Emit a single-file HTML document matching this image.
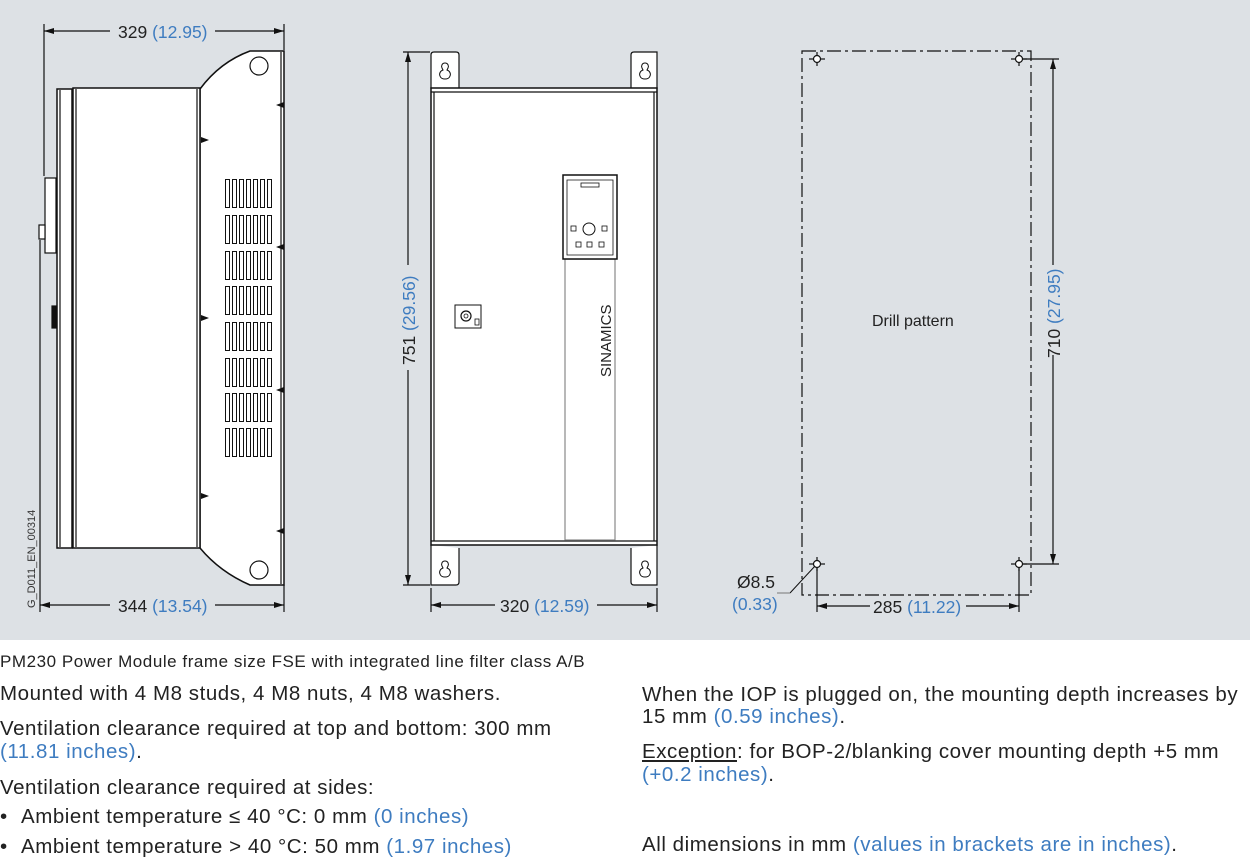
<!DOCTYPE html>
<html><head><meta charset="utf-8"><style>
html,body{margin:0;padding:0;width:1250px;height:863px;background:#fff;overflow:hidden;font-family:"Liberation Sans",sans-serif;}
.b{color:#3e7cc0}
.t{position:absolute;font-size:20.5px;color:#222;line-height:22px;white-space:nowrap;letter-spacing:0.55px}
</style></head><body>
<svg width="1250" height="863" style="position:absolute;left:0;top:0" font-family="Liberation Sans, sans-serif">
<defs>
<marker id="a" viewBox="0 0 10 6" refX="10" refY="3" markerWidth="10" markerHeight="6" orient="auto-start-reverse" markerUnits="userSpaceOnUse"><path d="M0,0L10,3L0,6z" fill="#111"/></marker>
<path id="kh" d="M0,-9 c-3,0 -4,3 -3,5 l1,2 c-3,1 -4,4 -3,6 c1,4 9,4 10,0 c1,-2 0,-5 -3,-6 l1,-2 c1,-2 0,-5 -3,-5z" fill="none" stroke="#111" stroke-width="1"/>
</defs>
<rect x="0" y="0" width="1250" height="640" fill="#dde1e5"/>
<g stroke="#111" fill="none" stroke-width="1.2">
<line x1="44" y1="24" x2="44" y2="176"/>
<line x1="284" y1="24" x2="284" y2="50"/>
<line x1="44" y1="31" x2="110" y2="31" marker-start="url(#a)"/>
<line x1="215" y1="31" x2="284" y2="31" marker-end="url(#a)"/>
<line x1="40" y1="240" x2="40" y2="612"/>
<line x1="284" y1="585" x2="284" y2="612"/>
<line x1="40" y1="605" x2="110" y2="605" marker-start="url(#a)"/>
<line x1="215" y1="605" x2="284" y2="605" marker-end="url(#a)"/>
<path d="M200,89 Q220,62 250,51 L284,51 L284,585 L250,585 Q220,572 200,548 Z" fill="#fff" stroke-width="1.5"/>
<line x1="281" y1="52" x2="281" y2="584"/>
<circle cx="259" cy="66" r="9"/>
<circle cx="259" cy="570" r="9"/>
<rect x="73" y="88" width="127" height="460" fill="#fff" stroke-width="1.5"/>
<line x1="76" y1="89" x2="76" y2="547"/>
<line x1="197" y1="89" x2="197" y2="547"/>
<rect x="57" y="89" width="15" height="459" fill="#fff" stroke-width="1.5"/>
<line x1="60" y1="90" x2="60" y2="547"/>
<rect x="45" y="178" width="11" height="75" fill="#fff"/>
<rect x="39" y="225" width="6" height="14" fill="#fff"/>
<rect x="52" y="306" width="4" height="22" fill="#111"/>
</g>
<g stroke="#111" fill="none" stroke-width="1">
<g id="vg">
<rect x="225.5" y="179.5" width="4" height="28"/><rect x="232.5" y="179.5" width="4" height="28"/><rect x="239.5" y="179.5" width="4" height="28"/><rect x="246.5" y="179.5" width="4" height="28"/><rect x="253.5" y="179.5" width="4" height="28"/><rect x="260.5" y="179.5" width="4" height="28"/><rect x="267.5" y="179.5" width="4" height="28"/>
</g>
<use href="#vg" y="36"/><use href="#vg" y="72"/><use href="#vg" y="107"/><use href="#vg" y="143"/><use href="#vg" y="179"/><use href="#vg" y="214"/><use href="#vg" y="249"/>
</g>
<g fill="#111">
<path d="M284,102 l-8,3 l8,3z"/><path d="M201,137 l8,3 l-8,3z"/><path d="M284,244 l-8,3 l8,3z"/><path d="M201,315 l8,3 l-8,3z"/><path d="M284,387 l-8,3 l8,3z"/><path d="M201,493 l8,3 l-8,3z"/><path d="M284,528 l-8,3 l8,3z"/>
</g>
<text x="118" y="38" font-size="17.5" fill="#222">329 <tspan fill="#3e7cc0">(12.95)</tspan></text>
<text x="118" y="612" font-size="17.5" fill="#222">344 <tspan fill="#3e7cc0">(13.54)</tspan></text>
<text transform="translate(35,608) rotate(-90)" font-size="11" fill="#333">G_D011_EN_00314</text>

<g stroke="#111" fill="none" stroke-width="1.2">
<line x1="403" y1="52" x2="430" y2="52"/>
<line x1="403" y1="585" x2="430" y2="585"/>
<line x1="408" y1="52" x2="408" y2="265" marker-start="url(#a)"/>
<line x1="408" y1="370" x2="408" y2="585" marker-end="url(#a)"/>
<line x1="431" y1="588" x2="431" y2="612"/>
<line x1="657" y1="588" x2="657" y2="612"/>
<line x1="431" y1="605" x2="495" y2="605" marker-start="url(#a)"/>
<line x1="597" y1="605" x2="657" y2="605" marker-end="url(#a)"/>
<path d="M431,89 L431,55 Q431,52 434,52 L456,52 Q459,52 459,55 L459,88" fill="#fff"/>
<path d="M657,89 L657,52 L634,52 Q631,52 631,55 L631,88" fill="#fff"/>
<path d="M431,545 L431,585 L456,585 Q459,585 459,582 L459,548" fill="#fff"/>
<path d="M657,545 L657,585 L634,585 Q631,585 631,582 L631,548" fill="#fff"/>
<rect x="431" y="88" width="226" height="457" fill="#fff" stroke-width="1.5"/>
<line x1="431" y1="92" x2="657" y2="92"/>
<line x1="431" y1="541" x2="657" y2="541"/>
<line x1="434" y1="92" x2="434" y2="541"/>
<line x1="654" y1="92" x2="654" y2="541"/>
<rect x="565" y="259" width="50" height="281" stroke="#888" fill="#fff"/>
<rect x="563" y="175" width="54" height="84" fill="#fff" stroke-width="1.5"/>
<path d="M567,180 L613,180 L613,255 L567,255 Z" stroke-width="0.8"/>
<rect x="581" y="183" width="18" height="4" stroke-width="0.8"/>
<circle cx="589" cy="229" r="6" stroke-width="1"/>
<rect x="571" y="226" width="5" height="5" stroke-width="0.8"/><rect x="602" y="226" width="5" height="5" stroke-width="0.8"/>
<rect x="576" y="242" width="5" height="5" stroke-width="0.8"/><rect x="587" y="242" width="5" height="5" stroke-width="0.8"/><rect x="599" y="242" width="5" height="5" stroke-width="0.8"/>
<rect x="455" y="305" width="26" height="23" fill="#fff" stroke-width="1"/>
<circle cx="466" cy="316" r="5" stroke-width="1.2"/><circle cx="466" cy="316" r="2" stroke-width="0.8"/>
<rect x="475" y="319" width="4" height="6" stroke-width="0.8"/>
</g>
<use href="#kh" x="445" y="72"/><use href="#kh" x="645" y="72"/>
<use href="#kh" x="445" y="570"/><use href="#kh" x="645" y="570"/>
<text transform="translate(415,365) rotate(-90)" font-size="17.5" fill="#222">751 <tspan fill="#3e7cc0">(29.56)</tspan></text>
<text transform="translate(611,377) rotate(-90)" font-size="15" fill="#222">SINAMICS</text>
<text x="500" y="612" font-size="17.5" fill="#222">320 <tspan fill="#3e7cc0">(12.59)</tspan></text>

<g stroke="#111" fill="none" stroke-width="1.2">
<rect x="802" y="51" width="229" height="544" stroke-dasharray="14,4,3,4"/>
<g transform="translate(817,59)"><line x1="-8" y1="0" x2="8" y2="0"/><line x1="0" y1="-7" x2="0" y2="7"/><circle r="3.5" fill="#fff"/></g>
<g transform="translate(1019,59)"><line x1="-8" y1="0" x2="8" y2="0"/><line x1="0" y1="-7" x2="0" y2="7"/><circle r="3.5" fill="#fff"/></g>
<g transform="translate(817,564)"><line x1="-8" y1="0" x2="8" y2="0"/><line x1="0" y1="-7" x2="0" y2="7"/><circle r="3.5" fill="#fff"/></g>
<g transform="translate(1019,564)"><line x1="-8" y1="0" x2="8" y2="0"/><line x1="0" y1="-7" x2="0" y2="7"/><circle r="3.5" fill="#fff"/></g>
<line x1="1023" y1="59" x2="1059" y2="59"/>
<line x1="1023" y1="564" x2="1059" y2="564"/>
<line x1="1053" y1="59" x2="1053" y2="265" marker-start="url(#a)"/>
<line x1="1053" y1="355" x2="1053" y2="564" marker-end="url(#a)"/>
<line x1="817" y1="568" x2="817" y2="612"/>
<line x1="1019" y1="568" x2="1019" y2="612"/>
<line x1="817" y1="606" x2="870" y2="606" marker-start="url(#a)"/>
<line x1="966" y1="606" x2="1019" y2="606" marker-end="url(#a)"/>
<line x1="790" y1="593" x2="815" y2="566" stroke-width="1"/>
</g>
<line x1="777" y1="593" x2="790" y2="593" stroke="#888" stroke-width="1.2"/>
<text x="872" y="326" font-size="16" fill="#222">Drill pattern</text>
<text transform="translate(1060,358) rotate(-90)" font-size="17.5" fill="#222">710 <tspan fill="#3e7cc0">(27.95)</tspan></text>
<text x="873" y="613" font-size="17.5" fill="#222">285 <tspan fill="#3e7cc0">(11.22)</tspan></text>
<text x="737" y="588" font-size="17.5" fill="#222">Ø8.5</text>
<text x="732" y="610" font-size="17.5" fill="#3e7cc0">(0.33)</text>
</svg>

<div class="t" style="left:0px;top:651px;font-size:17px;letter-spacing:0.55px">PM230 Power Module frame size FSE with integrated line filter class A/B</div>
<div class="t" style="left:0px;top:683px">Mounted with 4 M8 studs, 4 M8 nuts, 4 M8 washers.</div>
<div class="t" style="left:0px;top:718px">Ventilation clearance required at top and bottom: 300 mm</div>
<div class="t" style="left:0px;top:741px"><span class="b">(11.81 inches)</span>.</div>
<div class="t" style="left:0px;top:777px">Ventilation clearance required at sides:</div>
<div class="t" style="left:0px;top:806px">•<span style="position:absolute;left:21px">Ambient temperature ≤ 40 °C: 0 mm <span class="b">(0 inches)</span></span></div>
<div class="t" style="left:0px;top:836px">•<span style="position:absolute;left:21px">Ambient temperature &gt; 40 °C: 50 mm <span class="b">(1.97 inches)</span></span></div>
<div class="t" style="left:642px;top:684px">When the IOP is plugged on, the mounting depth increases by</div>
<div class="t" style="left:642px;top:706px">15 mm <span class="b">(0.59 inches)</span>.</div>
<div class="t" style="left:642px;top:741px"><span style="text-decoration:underline">Exception</span>: for BOP-2/blanking cover mounting depth +5 mm</div>
<div class="t" style="left:642px;top:764px"><span class="b">(+0.2 inches)</span>.</div>
<div class="t" style="left:642px;top:834px">All dimensions in mm <span class="b">(values in brackets are in inches)</span>.</div>
</body></html>
